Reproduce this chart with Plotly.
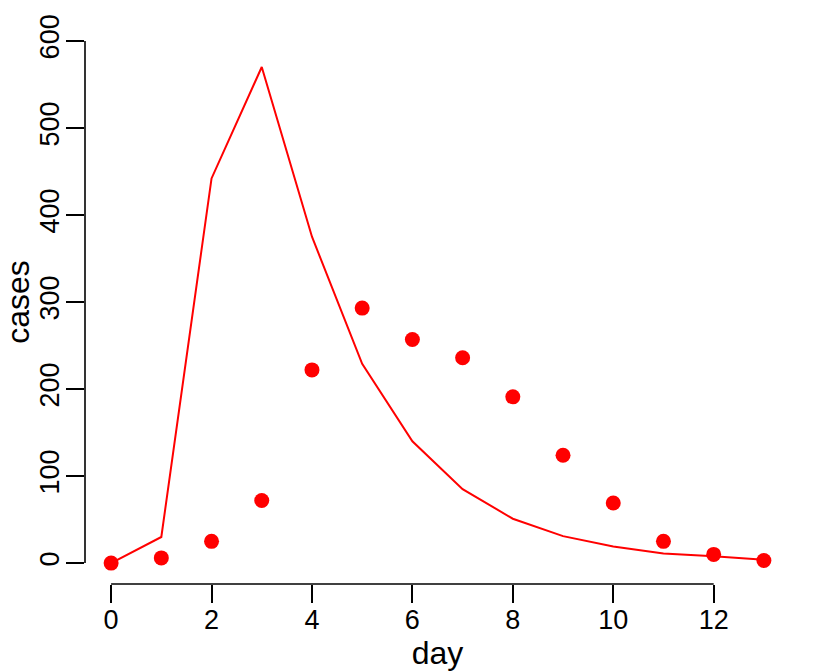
import plotly.graph_objects as go

days = list(range(14))
observed = [0, 6, 25, 72, 222, 293, 257, 236, 191, 124, 69, 25, 10, 3]
model = [0, 30, 442, 570, 375, 229, 140, 85, 51, 31, 19, 11, 8, 4]
x_ticks = [0, 2, 4, 6, 8, 10, 12]
y_ticks = [0, 100, 200, 300, 400, 500, 600]

RED = "#FF0000"
FONT = "Liberation Sans, Arial, sans-serif"

fig = go.Figure()
fig.add_trace(go.Scatter(x=days, y=model, mode="lines",
                         line=dict(color=RED, width=2), showlegend=False))
fig.add_trace(go.Scatter(x=days, y=observed, mode="markers",
                         marker=dict(color=RED, size=15, line=dict(width=0)),
                         showlegend=False))

# R-style detached axis lines spanning first to last tick
fig.add_shape(type="line", xref="x", yref="paper", x0=x_ticks[0], x1=x_ticks[-1],
              y0=0, y1=0, line=dict(color="black", width=1.6))
fig.add_shape(type="line", xref="paper", yref="y", x0=0, x1=0,
              y0=y_ticks[0], y1=y_ticks[-1], line=dict(color="black", width=1.6))

fig.update_layout(
    width=815, height=672,
    margin=dict(l=85, r=25, t=20, b=88, autoexpand=False),
    plot_bgcolor="white", paper_bgcolor="white",
    font=dict(family=FONT, size=27, color="black"),
    xaxis=dict(range=[-0.52, 13.52], tickvals=x_ticks, ticks="outside", ticklen=18,
               tickwidth=1.6, tickcolor="black", showline=False, showgrid=False,
               zeroline=False, automargin=False, ticklabelstandoff=-6,
               title=dict(text="day", standoff=2),
               tickfont=dict(size=27)),
    yaxis=dict(range=[-24, 624], tickvals=y_ticks, ticks="outside", ticklen=18,
               tickwidth=1.6, tickcolor="black", showline=False, showgrid=False,
               zeroline=False, automargin=False, tickangle=-90, ticklabelstandoff=-4,
               title=dict(text="cases", standoff=2),
               tickfont=dict(size=27)),
)

fig.write_html("out.html")
